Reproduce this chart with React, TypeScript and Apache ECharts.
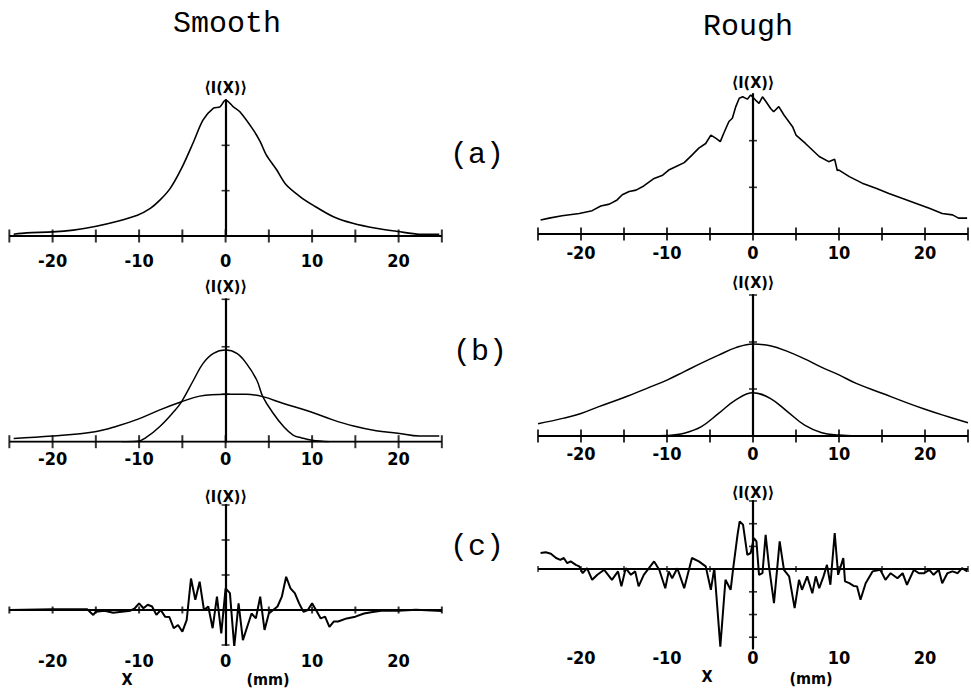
import React, { useEffect, useRef } from "react";
import * as echarts from "echarts";

// ---------- data ----------
const X_TICKS = [-25, -20, -15, -10, -5, 0, 5, 10, 15, 20, 25];
const Y_TICKS_A = [1, 2];
const Y_TICKS_B = [1, 2, 3];
const Y_TICKS_SMOOTH_C = [-1, 1, 2, 3];
const Y_TICKS_ROUGH_C = [-3, -2, -1, 1, 2, 3];

const smoothA = [
  [-24.5, 0.04], [-23, 0.07], [-20, 0.09], [-17.6, 0.13], [-15.1, 0.21], [-12.6, 0.32],
  [-10.2, 0.46], [-8.7, 0.61], [-7.6, 0.79], [-6.4, 1.05], [-5.1, 1.49], [-3.7, 2.08],
  [-2.6, 2.56], [-1.4, 2.82], [-0.65, 2.85], [0, 3.0], [0.9, 2.85], [1.65, 2.74],
  [3.2, 2.34], [4.0, 2.08], [4.7, 1.79], [5.9, 1.46], [7.0, 1.13], [8.6, 0.87],
  [10.1, 0.68], [12.4, 0.43], [14.7, 0.28], [17.4, 0.17], [19.9, 0.1], [22.4, 0.04], [24.7, 0.04],
];

const roughA = [
  [-24.7, 0.3], [-23.7, 0.34], [-22.2, 0.39], [-20.2, 0.44], [-18.7, 0.5], [-17.7, 0.6],
  [-16.7, 0.64], [-15.8, 0.73], [-15.2, 0.84], [-14.4, 0.91], [-13.6, 0.94], [-12.7, 1.03],
  [-11.5, 1.19], [-10.5, 1.26], [-9.8, 1.37], [-9.0, 1.44], [-8.0, 1.53], [-7.1, 1.69],
  [-6.3, 1.84], [-5.5, 1.94], [-4.9, 2.12], [-4.3, 2.05], [-3.8, 1.98], [-3.4, 2.16],
  [-2.8, 2.41], [-2.4, 2.48], [-2.0, 2.73], [-1.6, 2.91], [-1.2, 2.94], [-0.66, 2.89],
  [-0.27, 2.98], [0.3, 2.87], [0.7, 2.8], [1.1, 2.94], [1.5, 2.84], [2.05, 2.69],
  [2.4, 2.62], [3.0, 2.73], [3.6, 2.55], [4.6, 2.3], [5.0, 2.12], [6.1, 1.94],
  [7.7, 1.66], [8.8, 1.55], [9.5, 1.6], [9.8, 1.36], [10.0, 1.37], [11.2, 1.23], [12.7, 1.09],
  [14.3, 0.98], [15.8, 0.87], [17.4, 0.76], [18.9, 0.66], [20.5, 0.55], [22.0, 0.44],
  [23.2, 0.41], [23.9, 0.34], [24.9, 0.34],
];

const smoothBBroad = [
  [-24.5, 0.07], [-20, 0.12], [-15.1, 0.21], [-12.5, 0.33], [-10.2, 0.47], [-7.6, 0.67],
  [-5.1, 0.84], [-3, 0.96], [0, 1.0], [2.4, 1.0], [4.3, 0.95], [6.6, 0.81], [9.8, 0.63],
  [12.4, 0.46], [14.8, 0.33], [17.4, 0.23], [19.9, 0.18], [22.4, 0.12], [24.7, 0.12],
];

const smoothBNarrow = [
  [-12, 0], [-10.2, 0.01], [-9.1, 0.1], [-7.6, 0.32], [-6, 0.63], [-5.1, 0.84], [-3.7, 1.3],
  [-2.6, 1.65], [-1.4, 1.86], [0, 1.93], [1.3, 1.86], [2.4, 1.65], [3.6, 1.3], [4.3, 0.95],
  [5.5, 0.6], [6.7, 0.32], [7.8, 0.14], [8.8, 0.08], [10, 0.03], [12, 0],
];

const roughBBroad = [
  [-25, 0.26], [-22, 0.38], [-20, 0.48], [-18, 0.62], [-15, 0.82], [-12, 1.04], [-10, 1.19],
  [-8, 1.37], [-6, 1.55], [-4, 1.72], [-2, 1.88], [0, 1.96], [2, 1.92], [4, 1.8], [6, 1.64],
  [8, 1.46], [10, 1.3], [12, 1.12], [15, 0.91], [18, 0.7], [20, 0.57], [22, 0.45], [25, 0.28],
];

const roughBNarrow = [
  [-12, 0], [-10, 0.01], [-8, 0.06], [-6, 0.2], [-4, 0.48], [-2, 0.77], [0, 0.92], [2, 0.8],
  [4, 0.52], [6, 0.23], [8, 0.07], [10, 0.02], [12, 0],
];

const smoothC = [
  [-25, 0], [-20, 0.02], [-16, 0.02], [-15.3, -0.14], [-15, -0.05], [-14, -0.02], [-13, -0.08],
  [-12, -0.05], [-11, -0.02], [-10.5, 0.05], [-10, 0.19], [-9.5, 0.05], [-9, 0.15], [-8.5, 0.1],
  [-8, -0.14], [-7.5, 0], [-7, -0.19], [-6.5, -0.2], [-6, -0.52], [-5.5, -0.43], [-5, -0.62],
  [-4.5, -0.29], [-4, 0.9], [-3.5, 0.29], [-3, 0.81], [-2.5, 0], [-2, 0.1], [-1.5, -0.52],
  [-1, 0.38], [-0.5, -0.67], [0, 0.62], [0.5, 0.48], [1, -1.05], [1.5, 0.19], [2, -0.86],
  [2.5, -0.48], [3, -0.1], [3.5, -0.24], [4, 0.38], [4.5, -0.57], [5, -0.1], [5.5, 0],
  [6, 0.1], [6.5, 0.38], [7, 0.95], [7.5, 0.62], [8, 0.48], [8.5, 0.19], [9, -0.05],
  [9.5, 0.0], [10, 0.19], [10.5, -0.02], [11, -0.24], [11.5, -0.19], [12, -0.48], [12.5, -0.33],
  [13, -0.33], [14, -0.24], [15, -0.19], [16, -0.1], [17, -0.06], [18, -0.02], [20, -0.02],
  [22, 0.01], [25, -0.03],
];

const roughC = [
  [-24.7, 0.71], [-24.1, 0.74], [-23.5, 0.68], [-22.9, 0.49], [-22.4, 0.41], [-22, 0.49],
  [-21.6, 0.26], [-21.2, 0.34], [-20.6, 0.19], [-20.2, 0.12], [-19.8, -0.18], [-19.3, 0.04],
  [-18.7, -0.47], [-18.1, -0.25], [-17.3, -0.03], [-16.4, -0.47], [-15.7, -0.1], [-15.3, -0.76],
  [-14.8, 0.04], [-14.2, -0.25], [-13.7, -0.1], [-13.3, -0.76], [-12.7, -0.25], [-12.1, 0.04],
  [-11.5, 0.34], [-10.9, -0.03], [-10.2, -0.84], [-9.8, -0.1], [-9.4, -0.4], [-8.8, 0.04],
  [-8, -0.84], [-7.1, 0.49], [-6.3, 0.34], [-5.5, 0.12], [-4.9, -0.91], [-4.5, 0.04],
  [-3.8, -3.41], [-3.2, -0.47], [-2.6, -0.91], [-2.3, 0.04], [-1.8, 1.51], [-1.55, 2.1],
  [-1.16, 1.96], [-0.66, 0.63], [-0.27, 0.71], [0.1, 1.37], [0.4, 1.22], [0.7, -0.25],
  [1.1, -0.18], [1.47, 1.51], [1.86, 0.12], [2.44, -1.5], [3.1, 1.22], [3.6, -0.03],
  [4.2, -0.32], [4.84, -1.72], [5.35, -0.47], [5.7, -0.91], [6.3, -0.32], [6.9, -1.06],
  [7.3, -0.32], [7.7, -0.84], [8.2, -0.32], [8.6, 0.19], [9, -0.69], [9.5, 1.59], [9.9, -0.25],
  [10.5, 0.49], [10.7, -0.54], [11.2, -0.62], [11.7, -0.74], [12.1, -0.76], [12.5, -1.35],
  [13.1, -0.62], [13.9, -0.1], [14.8, -0.03], [15.4, -0.47], [16, -0.18], [16.8, -0.4],
  [17.4, -0.18], [17.9, -0.69], [18.7, -0.03], [19.3, -0.18], [19.9, -0.18], [20.5, -0.03],
  [21, -0.25], [21.6, -0.03], [22, -0.62], [22.6, -0.18], [23.2, -0.1], [23.8, -0.18],
  [24.3, 0.04], [24.9, -0.1],
];

// ---------- styling ----------
const NUM_FONT = "'Liberation Sans Narrow','DejaVu Sans Condensed','Roboto Condensed','Liberation Sans',sans-serif";
const MONO_FONT = "'Liberation Mono','DejaVu Sans Mono',monospace";

type Panel = {
  grid: { left: number; top: number; width: number; height: number };
  yMin: number;
  yMax: number;
  yTicks: number[];
  curves: { data: number[][]; smooth: number | boolean }[];
  labelMargin: number;
  nameGap: number;
  xTickSize: [number, number];
  lineWidth: number;
};

const LEFT_X = { left: 9.35, width: 432.5 };
const RIGHT_X = { left: 538, width: 432 };

const panels: Panel[] = [
  {
    grid: { ...LEFT_X, top: 100, height: 136 },
    yMin: 0, yMax: 3, yTicks: Y_TICKS_A,
    curves: [{ data: smoothA, smooth: 0.3 }],
    labelMargin: 15, nameGap: 5, xTickSize: [2, 13], lineWidth: 1.6,
  },
  {
    grid: { ...RIGHT_X, top: 94, height: 140 },
    yMin: 0, yMax: 3, yTicks: Y_TICKS_A,
    curves: [{ data: roughA, smooth: false }],
    labelMargin: 9, nameGap: 4, xTickSize: [2, 13], lineWidth: 1.6,
  },
  {
    grid: { ...LEFT_X, top: 299.3, height: 142.4 },
    yMin: 0, yMax: 3, yTicks: Y_TICKS_B,
    curves: [
      { data: smoothBBroad, smooth: 0.4 },
      { data: smoothBNarrow, smooth: 0.4 },
    ],
    labelMargin: 8, nameGap: 5, xTickSize: [2, 13], lineWidth: 1.5,
  },
  {
    grid: { ...RIGHT_X, top: 295, height: 141 },
    yMin: 0, yMax: 3, yTicks: Y_TICKS_B,
    curves: [
      { data: roughBBroad, smooth: 0.4 },
      { data: roughBNarrow, smooth: 0.4 },
    ],
    labelMargin: 8, nameGap: 5, xTickSize: [2, 13], lineWidth: 1.5,
  },
  {
    grid: { ...LEFT_X, top: 505, height: 140 },
    yMin: -1, yMax: 3, yTicks: Y_TICKS_SMOOTH_C,
    curves: [{ data: smoothC, smooth: false }],
    labelMargin: 6, nameGap: 1, xTickSize: [2, 7], lineWidth: 2,
  },
  {
    grid: { ...RIGHT_X, top: 501, height: 147.6 },
    yMin: -3.5, yMax: 3, yTicks: Y_TICKS_ROUGH_C,
    curves: [{ data: roughC, smooth: false }],
    labelMargin: 0, nameGap: 1, xTickSize: [1.5, 6], lineWidth: 2,
  },
];

function buildOption() {
  const grid: any[] = [];
  const xAxis: any[] = [];
  const yAxis: any[] = [];
  const series: any[] = [];

  panels.forEach((p, i) => {
    grid.push({ ...p.grid, containLabel: false });
    xAxis.push({
      type: "value",
      gridIndex: i,
      min: -25,
      max: 25,
      interval: 5,
      axisLine: { show: false, onZero: false },
      axisTick: { show: false },
      splitLine: { show: false },
      axisLabel: {
        margin: p.labelMargin,
        color: "#000",
        fontSize: 18,
        fontWeight: "bold",
        fontFamily: NUM_FONT,
        formatter: (v: number) => (v % 10 === 0 && Math.abs(v) < 25 ? String(v) : ""),
      },
    });
    yAxis.push({
      type: "value",
      gridIndex: i,
      min: p.yMin,
      max: p.yMax,
      name: "⟨I(X)⟩",
      nameLocation: "end",
      nameGap: p.nameGap,
      nameTextStyle: {
        color: "#000",
        fontSize: 16,
        fontWeight: "bold",
        fontFamily: NUM_FONT,
        align: "center",
        verticalAlign: "bottom",
      },
      axisLine: { show: true, onZero: true, lineStyle: { color: "#000", width: 2.2 } },
      axisTick: { show: false },
      axisLabel: { show: false },
      splitLine: { show: false },
    });
    // zero line (horizontal axis)
    series.push({
      type: "line",
      xAxisIndex: i,
      yAxisIndex: i,
      data: [[-25, 0], [25, 0]],
      symbol: "none",
      lineStyle: { color: "#000", width: 2 },
      silent: true,
      z: 3,
    });
    // x ticks crossing the axis
    series.push({
      type: "scatter",
      xAxisIndex: i,
      yAxisIndex: i,
      data: X_TICKS.map((x) => [x, 0]),
      symbol: "rect",
      symbolSize: p.xTickSize,
      itemStyle: { color: "#000" },
      silent: true,
      z: 4,
    });
    // y ticks crossing the vertical axis
    series.push({
      type: "scatter",
      xAxisIndex: i,
      yAxisIndex: i,
      data: p.yTicks.map((y) => [0, y]),
      symbol: "rect",
      symbolSize: [8, 1.6],
      itemStyle: { color: "#000" },
      silent: true,
      z: 4,
    });
    p.curves.forEach((c) => {
      series.push({
        type: "line",
        xAxisIndex: i,
        yAxisIndex: i,
        data: c.data,
        symbol: "none",
        smooth: c.smooth,
        lineStyle: { color: "#000", width: p.lineWidth },
        silent: true,
        z: 5,
      });
    });
  });

  const txt = (text: string, x: number, y: number, size: number, font: string, weight = "normal") => ({
    type: "text",
    x,
    y,
    style: {
      text,
      fill: "#000",
      fontSize: size,
      fontFamily: font,
      fontWeight: weight,
      align: "center",
      verticalAlign: "middle",
    },
  });

  const graphic = [
    txt("Smooth", 227, 24, 30, MONO_FONT),
    txt("Rough", 748, 27, 30, MONO_FONT),
    txt("(a)", 477, 155, 30, MONO_FONT),
    txt("(b)", 480, 352, 30, MONO_FONT),
    txt("(c)", 477, 547, 30, MONO_FONT),
    txt("X", 127, 679, 16, NUM_FONT, "bold"),
    txt("(mm)", 268, 679, 16, NUM_FONT, "bold"),
    txt("X", 707, 676, 16, NUM_FONT, "bold"),
    txt("(mm)", 811, 678, 16, NUM_FONT, "bold"),
  ];

  return {
    animation: false,
    backgroundColor: "#fff",
    grid,
    xAxis,
    yAxis,
    series,
    graphic,
  };
}

export default function App() {
  const ref = useRef<HTMLDivElement>(null);
  useEffect(() => {
    if (!ref.current) return;
    const chart = echarts.init(ref.current, undefined, { renderer: "svg" });
    chart.setOption(buildOption() as any);
    return () => chart.dispose();
  }, []);
  return (
    <div
      ref={ref}
      style={{ position: "fixed", left: 0, top: 0, width: 971, height: 690, background: "#fff" }}
    />
  );
}
